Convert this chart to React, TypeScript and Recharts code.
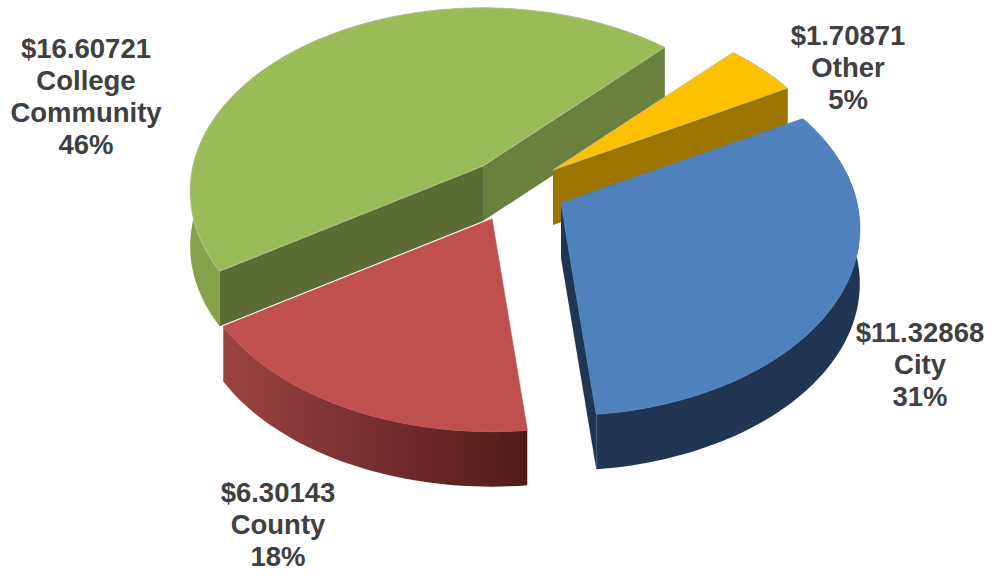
import React from "react";
import { PieChart, Pie, Cell } from "recharts";

const names = ["College Community", "Other", "City", "County"];
const values = [16.60721, 1.70871, 11.32868, 6.30143];
const amountLabels = ["$16.60721", "$1.70871", "$11.32868", "$6.30143"];
const nameLines = [["College", "Community"], ["Other"], ["City"], ["County"]];
const percentLabels = ["46%", "5%", "31%", "18%"];

const topColors = ["#9bbb59", "#ffc000", "#4f81bd", "#c0504d"];
const rimColors = ["#86a34c", "#9c7500", "#1f3552", "url(#redRim)"];
const startWallColors = ["#5b6c35", "#9c7500", "#1f3552", "#5a1f1e"];
const endWallColors = ["#6b803f", "#9c7500", "#1f3552", "#8a3735"];
const outlines = ["#b9c2a5", "#c9bd94", "#4f81bd", "#c0504d"];

const explodeX = [-39, 31, 39, -30];
const explodeY = [-24, -20, 13, 29];
const radiusScale = [0.98, 0.97, 1, 1];
const labelX = [86, 848, 920, 278];
const labelY = [58, 45, 342, 502];

const CX = 522;
const CY = 190;
const RX = 296;
const RY_RATIO = 0.62;
const TILT = 0.137;
const DEPTH = 55;
const RAD = Math.PI / 180;

type Pt = [number, number];

const project = (deg: number, r: number, cx: number, cy: number): Pt => {
  const u = Math.cos(deg * RAD);
  const v = Math.sin(deg * RAD);
  const s = 1 / (1 + TILT * v);
  return [cx + r * u * s, cy - r * RY_RATIO * v * s];
};

const arcPts = (a: number, b: number, r: number, cx: number, cy: number): Pt[] => {
  const n = Math.max(2, Math.ceil(Math.abs(a - b) / 1.5));
  const pts: Pt[] = [];
  for (let i = 0; i <= n; i++) pts.push(project(a + ((b - a) * i) / n, r, cx, cy));
  return pts;
};

const toPath = (pts: Pt[]) =>
  "M" + pts.map((p) => `${p[0].toFixed(2)},${p[1].toFixed(2)}`).join("L") + "Z";

const drop = (pts: Pt[]): Pt[] => pts.map((p) => [p[0], p[1] + DEPTH]);

const Slice3D = (props: any) => {
  const { cx, cy, startAngle, endAngle, outerRadius, index } = props;
  const x = cx + explodeX[index];
  const y = cy + explodeY[index];
  const arc = arcPts(startAngle, endAngle, outerRadius * radiusScale[index], x, y);
  const apex: Pt = [x, y];
  const first = arc[0];
  const last = arc[arc.length - 1];
  const wall = (p: Pt) => toPath([apex, p, [p[0], p[1] + DEPTH], [apex[0], apex[1] + DEPTH]]);
  const rim = toPath([...arc, ...drop(arc).reverse()]);
  return (
    <g>
      <path d={rim} fill={rimColors[index]} stroke="none" />
      {first[0] < apex[0] && <path d={wall(first)} fill={startWallColors[index]} stroke="none" />}
      {last[0] > apex[0] && <path d={wall(last)} fill={endWallColors[index]} stroke="none" />}
      <path d={toPath([apex, ...arc])} fill={topColors[index]} stroke={outlines[index]} strokeWidth={0.8} />
    </g>
  );
};

const renderLabel = (props: any) => {
  const i = props.index;
  const lines = [amountLabels[i], ...nameLines[i], percentLabels[i]];
  return (
    <text
      key={names[i]}
      x={labelX[i]}
      y={labelY[i]}
      textAnchor="middle"
      fontFamily="'Liberation Sans', Arial, sans-serif"
      fontWeight="bold"
      fontSize={27.5}
      fill="#404040"
    >
      {lines.map((t, k) => (
        <tspan key={k} x={labelX[i]} y={labelY[i] + k * 32}>
          {t}
        </tspan>
      ))}
    </text>
  );
};

const data = names.map((name, i) => ({ name, value: values[i] }));

export default function App() {
  return (
    <div style={{ position: "absolute", left: 0, top: 0, width: 994, height: 575, background: "#fff" }}>
      <PieChart width={994} height={575} margin={{ top: 0, right: 0, bottom: 0, left: 0 }}>
        <defs>
          <linearGradient id="redRim" x1="0" y1="0" x2="1" y2="0">
            <stop offset="0%" stopColor="#9c4341" />
            <stop offset="100%" stopColor="#4f1b1a" />
          </linearGradient>
        </defs>
        <Pie
          data={data}
          dataKey="value"
          nameKey="name"
          cx={CX}
          cy={CY}
          innerRadius={0}
          outerRadius={RX}
          startAngle={212.8}
          endAngle={-147.2}
          paddingAngle={0}
          stroke="none"
          isAnimationActive={false}
          shape={Slice3D}
          label={renderLabel}
          labelLine={false}
        >
          {data.map((d, i) => (
            <Cell key={d.name} fill={topColors[i]} />
          ))}
        </Pie>
      </PieChart>
    </div>
  );
}
